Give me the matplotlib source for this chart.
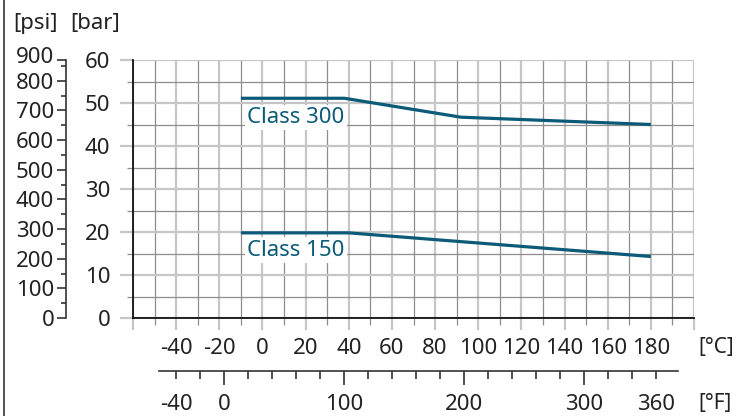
import matplotlib
matplotlib.use("Agg")
import matplotlib.pyplot as plt
from matplotlib.ticker import FixedLocator, FixedFormatter, FuncFormatter
from matplotlib.lines import Line2D

# pressure / temperature ratings (bar over degC)
temp_c300 = [-10, 38, 92, 180]
bar_c300 = [51.1, 51.1, 46.7, 45.0]
temp_c150 = [-10, 40, 180]
bar_c150 = [19.8, 19.8, 14.3]

c_ticks = list(range(-60, 201, 20))
c_labels = ['' if t in (-60, 200) else str(t) for t in c_ticks]
bar_ticks = list(range(0, 61, 10))
psi_ticks = [0, 100, 200, 300, 400, 500, 600, 700, 800]
f_major = [0, 100, 200, 300]
f_minor = list(range(-40, 361, 20))
f_end_labels = [-40, 360]

LINE = '#0b5a78'
TXT = '#222222'
MAJ = '#c6c6c6'
MIN = '#8e8e8e'
PT = 0.72  # points per pixel at dpi 100

plt.rcParams['font.family'] = ['Noto Sans', 'DejaVu Sans']
plt.rcParams['font.size'] = 16
plt.rcParams['axes.unicode_minus'] = False

W, H = 736, 416
fig = plt.figure(figsize=(W / 100, H / 100), dpi=100)


def px_rect(x0, y0, x1, y1):
    return [x0 / W, 1 - y1 / H, (x1 - x0) / W, (y1 - y0) / H]


ax = fig.add_axes(px_rect(133, 60, 694, 318))
ax.set_xlim(-60, 200)
ax.set_ylim(0, 60)
ax.set_axisbelow(True)

ax.plot(temp_c300, bar_c300, color=LINE, lw=2.3, solid_capstyle='butt', zorder=3)
ax.plot(temp_c150, bar_c150, color=LINE, lw=2.3, solid_capstyle='butt', zorder=3)
box = dict(boxstyle='square,pad=0.1', fc='white', ec='none')
ax.text(-7, 46.6, 'Class 300', color=LINE, va='center', ha='left', bbox=box, zorder=4)
ax.text(-7, 15.8, 'Class 150', color=LINE, va='center', ha='left', bbox=box, zorder=4)

ax.set_xticks(c_ticks)
ax.set_xticklabels(c_labels)
ax.xaxis.set_minor_locator(FixedLocator(range(-50, 200, 20)))
ax.set_yticks(bar_ticks)
ax.yaxis.set_minor_locator(FixedLocator(range(5, 60, 10)))
ax.grid(which='major', color=MAJ, lw=1.6)
ax.grid(which='minor', color=MIN, lw=0.9)
ax.tick_params(axis='x', which='major', length=12 * PT, width=1.6, color=MAJ,
               pad=6, labelcolor=TXT)
ax.tick_params(axis='x', which='minor', length=7 * PT, width=0.9, color=MIN)
ax.tick_params(axis='y', which='major', length=13 * PT, width=1.6, color=MAJ,
               pad=7, labelcolor=TXT)
ax.tick_params(axis='y', which='minor', length=6 * PT, width=0.9, color=MIN)
for s in ['top', 'right']:
    ax.spines[s].set_visible(False)
for s in ['left', 'bottom']:
    ax.spines[s].set_color('#111111')
    ax.spines[s].set_linewidth(1.3)
    ax.spines[s].set_zorder(3.5)

# psi scale on the left
psi = ax.secondary_yaxis((66 - 133) / 561, functions=(lambda b: b * 14.5038,
                                                      lambda p: p / 14.5038))
psi.yaxis.set_major_locator(FixedLocator(psi_ticks + [870.2]))
psi.yaxis.set_major_formatter(FixedFormatter([str(p) for p in psi_ticks] + ['']))
psi.yaxis.set_minor_locator(FixedLocator(range(50, 851, 100)))
psi.tick_params(which='major', length=9 * PT, width=1.2, color='#333333', pad=2,
                labelcolor=TXT)
psi.tick_params(which='minor', length=5 * PT, width=1.2, color='#333333')
psi.spines['left'].set_color('#333333')
psi.spines['left'].set_linewidth(1.2)
# the top label sits a little above the end of the scale
ax.text((54 - 133) / 561, 60.6, '900', transform=ax.get_yaxis_transform(),
        ha='right', va='center', color=TXT, clip_on=False)

# degF scale below
fah = ax.secondary_xaxis((318 - 371) / 258, functions=(lambda c: c * 1.8 + 32,
                                                       lambda f: (f - 32) / 1.8))
fah.xaxis.set_major_locator(FixedLocator(f_major))
fah.xaxis.set_minor_locator(FixedLocator(f_minor))
fah.xaxis.set_minor_formatter(FuncFormatter(
    lambda v, p: str(int(round(v))) if int(round(v)) in f_end_labels else ''))
fah.tick_params(which='major', length=14 * PT, width=1.2, color='#333333', pad=6.8,
                labelcolor=TXT)
fah.tick_params(which='minor', length=8 * PT, width=1.2, color='#333333', pad=11.1,
                labelcolor=TXT)
fah.spines['bottom'].set_bounds(-54, 379)
fah.spines['bottom'].set_color('#333333')
fah.spines['bottom'].set_linewidth(1.2)

fig.text(13 / W, 1 - 23 / H, '[psi]', ha='left', va='center', color=TXT)
fig.text(70 / W, 1 - 23 / H, '[bar]', ha='left', va='center', color=TXT)
fig.text(698 / W, 1 - 348 / H, '[°C]', ha='left', va='center', color=TXT, fontsize=15)
fig.text(698 / W, 1 - 403 / H, '[°F]', ha='left', va='center', color=TXT, fontsize=15)

fig.add_artist(Line2D([4 / W, 4 / W], [0, 1], transform=fig.transFigure,
                      color='#444444', lw=1.3))

fig.savefig('out.png', dpi=100)
